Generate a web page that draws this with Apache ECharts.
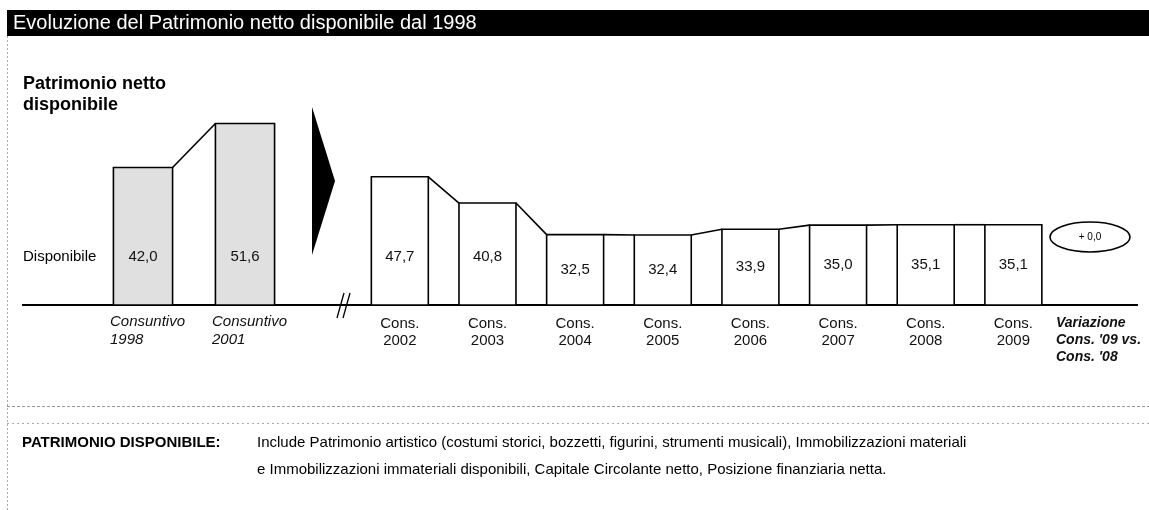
<!DOCTYPE html>
<html>
<head>
<meta charset="utf-8">
<script src="https://cdn.jsdelivr.net/npm/echarts@6/dist/echarts.min.js"></script>
<style>
  html, body { margin: 0; padding: 0; background: #fff; }
  #chart { width: 1149px; height: 510px; }
</style>
</head>
<body>
<div id="chart"></div>
<script>
// Patrimonio netto disponibile: consuntivi storici
const histYears = ['1998', '2001'];
const histValues = [42.0, 51.6];

// Patrimonio netto disponibile: consuntivi annuali
const yearCats = ['2002', '2003', '2004', '2005', '2006', '2007', '2008', '2009'];
const yearValues = [47.7, 40.8, 32.5, 32.4, 33.9, 35.0, 35.1, 35.1];

// Label of the last column (variation)
const variationLines = ['Variazione', "Cons. '09 vs.", "Cons. '08"];

const FONT = '"Liberation Sans", Arial, Helvetica, sans-serif';
const ROW_Y = 257; // row of the "Disponibile" values

function fmt(v) {
  return v.toFixed(1).replace('.', ',');
}

// Bars joined by a line from the top-right corner of one bar
// to the top-left corner of the next one.
function stepBars(fill, widthRatio) {
  return function (params, api) {
    const idx = api.value(0);
    const val = api.value(1);
    const next = api.value(2);
    const cs = params.coordSys;
    const bottom = cs.y + cs.height;
    const w = api.size([1, 0])[0] * widthRatio;
    const p = api.coord([idx, val]);
    const children = [
      {
        type: 'rect',
        shape: { x: p[0] - w / 2, y: p[1], width: w, height: bottom - p[1] },
        style: { fill: fill, stroke: '#000', lineWidth: 1.6 }
      },
      {
        type: 'text',
        x: p[0],
        y: Math.max((p[1] + bottom) / 2, ROW_Y),
        style: {
          text: fmt(val), fill: '#111', font: '15px ' + FONT,
          align: 'center', verticalAlign: 'middle'
        }
      }
    ];
    if (!isNaN(next)) {
      const q = api.coord([idx + 1, next]);
      children.push({
        type: 'line',
        shape: { x1: p[0] + w / 2, y1: p[1], x2: q[0] - w / 2, y2: q[1] },
        style: { stroke: '#000', lineWidth: 1.6 }
      });
    }
    return { type: 'group', children: children };
  };
}

const histData = histValues.map((v, i) => [i, v, i < histValues.length - 1 ? histValues[i + 1] : '-']);
const yearData = yearValues.map((v, i) => [i, v, i < yearValues.length - 1 ? yearValues[i + 1] : '-']);

const last = yearValues[yearValues.length - 1];
const prev = yearValues[yearValues.length - 2];
const delta = last - prev;
const deltaText = (delta >= 0 ? '+ ' : '- ') + fmt(Math.abs(delta));

const chart = echarts.init(document.getElementById('chart'), null, { renderer: 'canvas' });

chart.setOption({
  animation: false,
  backgroundColor: '#fff',
  grid: [
    { left: 92, width: 204, top: 85, bottom: 205 },
    { left: 356, width: 789, top: 130, bottom: 205 }
  ],
  xAxis: [
    {
      type: 'category', gridIndex: 0,
      data: histYears,
      axisLine: { show: false }, axisTick: { show: false },
      axisLabel: {
        margin: 8,
        formatter: (y) => '{a|Consuntivo}\n{a|' + y + '}',
        rich: {
          a: {
            width: 66, align: 'left', fontStyle: 'italic',
            fontFamily: FONT, fontSize: 15, lineHeight: 18, color: '#111'
          }
        }
      }
    },
    {
      type: 'category', gridIndex: 1,
      data: yearCats.concat(['var']),
      axisLine: { show: false }, axisTick: { show: false },
      axisLabel: {
        margin: 10,
        interval: 0,
        formatter: (y, i) => (i < yearCats.length
          ? '{c|Cons.}\n{c|' + y + '}'
          : variationLines.map(t => '{v|' + t + '}').join('\n')),
        rich: {
          c: { fontFamily: FONT, fontSize: 15, lineHeight: 17, color: '#111', align: 'center' },
          v: {
            fontFamily: FONT, fontSize: 14, lineHeight: 17, color: '#111',
            fontStyle: 'italic', fontWeight: 'bold', align: 'left', width: 90
          }
        }
      }
    }
  ],
  yAxis: [
    { type: 'value', gridIndex: 0, min: 12, max: 60, show: false },
    { type: 'value', gridIndex: 1, min: 14, max: 60, show: false }
  ],
  series: [
    {
      type: 'custom', xAxisIndex: 0, yAxisIndex: 0, clip: false,
      renderItem: stepBars('#e0e0e0', 0.58),
      encode: { x: 0, y: 1 },
      data: histData
    },
    {
      type: 'custom', xAxisIndex: 1, yAxisIndex: 1, clip: false,
      renderItem: stepBars('#fff', 0.65),
      encode: { x: 0, y: 1 },
      data: yearData
    }
  ],
  graphic: [
    // title bar
    { type: 'rect', x: 7, y: 10, shape: { width: 1142, height: 26 }, style: { fill: '#000' } },
    {
      type: 'text', x: 13, y: 23,
      style: {
        text: 'Evoluzione del Patrimonio netto disponibile dal 1998',
        fill: '#fff', font: '20px ' + FONT, verticalAlign: 'middle'
      }
    },
    // frame and separators
    { type: 'line', shape: { x1: 7.5, y1: 36, x2: 7.5, y2: 510 }, style: { stroke: '#aaa', lineWidth: 1, lineDash: [2, 2] } },
    { type: 'line', shape: { x1: 7, y1: 406.5, x2: 1149, y2: 406.5 }, style: { stroke: '#999', lineWidth: 1, lineDash: [3, 2] } },
    { type: 'line', shape: { x1: 7, y1: 423.5, x2: 1149, y2: 423.5 }, style: { stroke: '#aaa', lineWidth: 1, lineDash: [2, 3] } },
    // section heading
    {
      type: 'text', x: 23, y: 84,
      style: { text: 'Patrimonio netto', fill: '#000', font: 'bold 18px ' + FONT, verticalAlign: 'middle' }
    },
    {
      type: 'text', x: 23, y: 105,
      style: { text: 'disponibile', fill: '#000', font: 'bold 18px ' + FONT, verticalAlign: 'middle' }
    },
    {
      type: 'text', x: 23, y: ROW_Y,
      style: { text: 'Disponibile', fill: '#000', font: '15px ' + FONT, verticalAlign: 'middle' }
    },
    // arrow towards the yearly figures
    { type: 'polygon', shape: { points: [[312, 107], [335, 181], [312, 255]] }, style: { fill: '#000' } },
    // baseline with axis break
    { type: 'line', shape: { x1: 22, y1: 305, x2: 1138, y2: 305 }, style: { stroke: '#000', lineWidth: 2 } },
    { type: 'line', shape: { x1: 337, y1: 318, x2: 344, y2: 293 }, style: { stroke: '#000', lineWidth: 1.3 } },
    { type: 'line', shape: { x1: 343, y1: 318, x2: 350, y2: 293 }, style: { stroke: '#000', lineWidth: 1.3 } },
    // variation bubble
    {
      type: 'ellipse', shape: { cx: 1090, cy: 237, rx: 40, ry: 15 },
      style: { fill: 'none', stroke: '#000', lineWidth: 1.6 }
    },
    {
      type: 'text', x: 1090, y: 237,
      style: { text: deltaText, fill: '#000', font: '10px ' + FONT, align: 'center', verticalAlign: 'middle' }
    },
    // footnote
    {
      type: 'text', x: 22, y: 443,
      style: { text: 'PATRIMONIO DISPONIBILE:', fill: '#000', font: 'bold 15px ' + FONT, verticalAlign: 'middle' }
    },
    {
      type: 'text', x: 257, y: 443,
      style: {
        text: 'Include Patrimonio artistico (costumi storici, bozzetti, figurini, strumenti musicali), Immobilizzazioni materiali',
        fill: '#000', font: '15px ' + FONT, verticalAlign: 'middle'
      }
    },
    {
      type: 'text', x: 257, y: 470,
      style: {
        text: 'e Immobilizzazioni immateriali disponibili, Capitale Circolante netto, Posizione finanziaria netta.',
        fill: '#000', font: '15px ' + FONT, verticalAlign: 'middle'
      }
    }
  ]
});
</script>
</body>
</html>
